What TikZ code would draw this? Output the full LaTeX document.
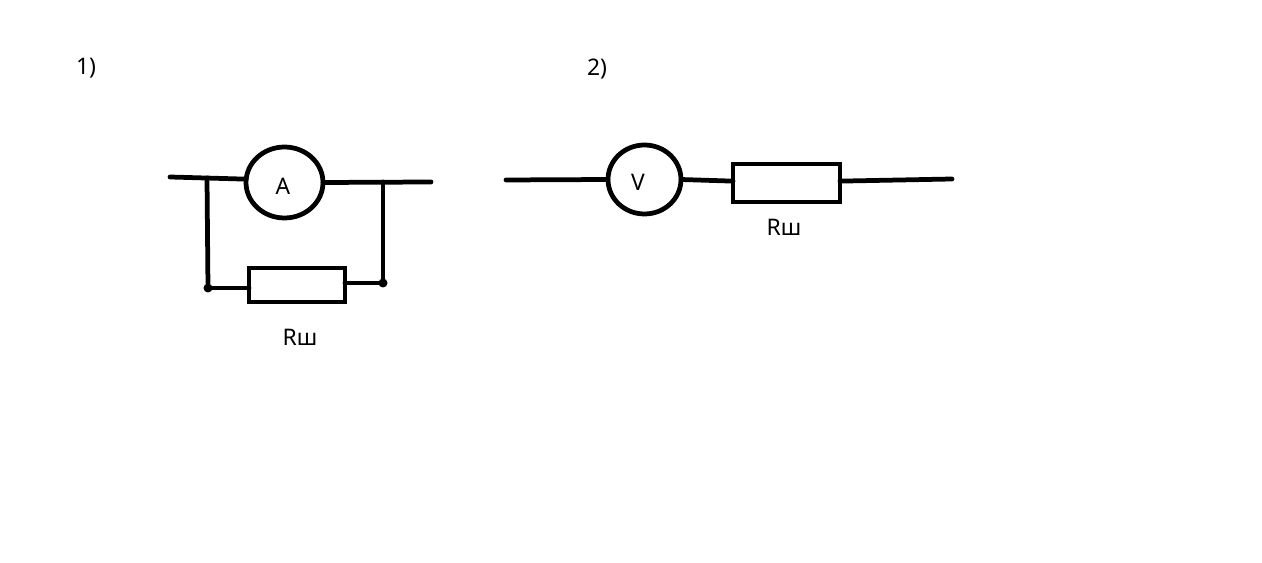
\documentclass[tikz,border=0pt]{standalone}
\usepackage{fontspec}
\setmainfont{Noto Sans}
\usetikzlibrary{positioning, shapes.geometric}
\tikzstyle{wire} = [line width=0.095cm, line cap=round]
\tikzstyle{dot} = [circle, fill=black, inner sep=0pt, minimum size=0.18cm]
\tikzstyle{lbl} = [inner sep=0pt, font=\fontsize{13pt}{15pt}\selectfont]

\begin{document}
\begin{tikzpicture}[
x=0.02cm, y=-0.02cm,
roundnode/.style={ellipse, draw=black, line width=0.095cm, inner sep=0pt, outer sep=0pt},
squarednode/.style={rectangle, draw=black, line width=0.095cm, inner sep=0pt, outer sep=0pt}
]
\useasboundingbox (0,0) rectangle (1262,563);
\fill[white] (0,0) rectangle (1262,563);

% first circuit
\node[lbl] (N1) at (86,68) {1)};
\node[roundnode, minimum width=1.54cm, minimum height=1.42cm] (A) at (284.5,182.5) {};
\node[lbl] (AL) at (283,186) {A};
\node[squarednode, minimum width=1.92cm, minimum height=0.68cm] (R1) at (297,285) {};
\node[lbl, xshift=0.06cm] (R1L) [below=0.54cm of R1] {Rш};
\coordinate (In1) at (170,177);
\coordinate (Out1) at (431,182);
\coordinate (J1) at (207,178);
\coordinate (J2) at (383,182);
\node[dot] (D1) at (208,288) {};
\node[dot] (D2) at (383,283) {};
\draw[wire] (In1) -- (A.175);
\draw[wire] (A.east) -- (Out1);
\draw[wire] (J1) -- (D1);
\draw[wire] (J2) -- (D2);
\draw[wire] (D1) -- (D1 -| R1.west);
\draw[wire] (D2) -- (D2 -| R1.east);

% second circuit
\node[lbl] (N2) at (597,69) {2)};
\node[roundnode, minimum width=1.46cm, minimum height=1.38cm] (V) at (644.5,179.5) {};
\node[lbl] (VL) at (638,182) {V};
\node[squarednode, minimum width=2.14cm, minimum height=0.76cm] (R2) at (786.5,183) {};
\node[lbl, xshift=-0.05cm] (R2L) [below=0.33cm of R2] {Rш};
\coordinate (In2) at (506,180);
\coordinate (Out2) at (952,179);
\draw[wire] (In2) -- (V.west);
\draw[wire] (V.east) -- (R2.178);
\draw[wire] (R2.2) -- (Out2);
\end{tikzpicture}
\end{document}
